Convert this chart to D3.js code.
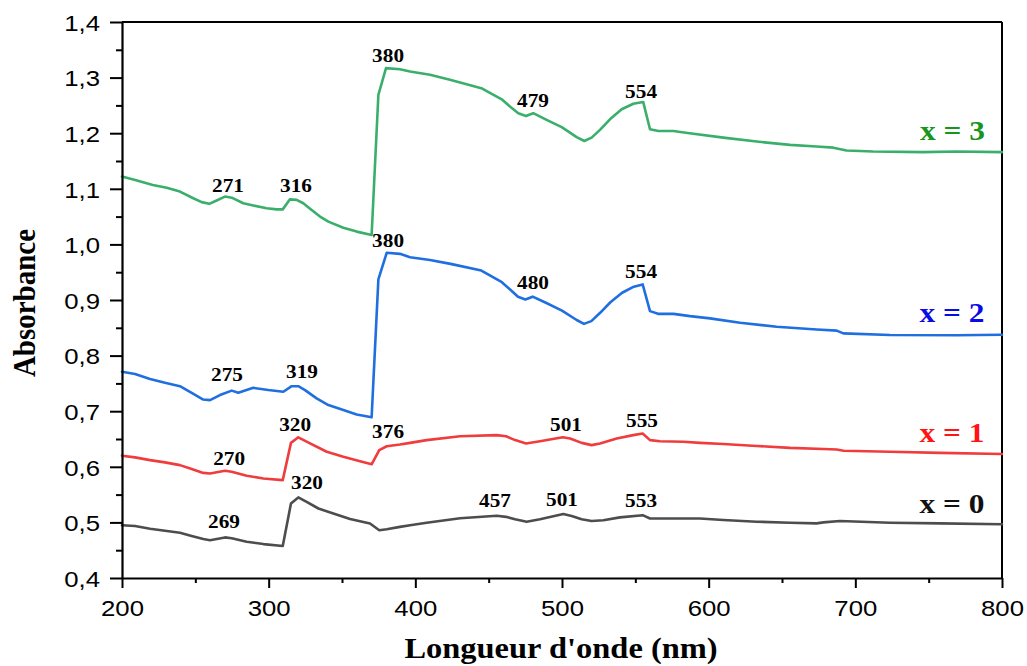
<!DOCTYPE html>
<html>
<head>
<meta charset="utf-8">
<script src="https://cdn.jsdelivr.net/npm/d3@7"></script>
<style>
  html, body { margin: 0; padding: 0; background: #fff; }
  svg { display: block; }
</style>
</head>
<body>
<svg id="chart" width="1027" height="666"></svg>
<script>
// ---------- DATA ----------
const seriesNames = ["x = 0", "x = 1", "x = 2", "x = 3"];

const spectrumX0 = [[200,0.495],[208.9,0.4935],[219.1,0.4887],[229.3,0.485],[239.5,0.4815],[247.5,0.4755],[255.4,0.470],[260,0.468],[270.2,0.473],[274.8,0.4714],[285,0.4653],[296.4,0.461],[309.6,0.4576],[315.2,0.534],[320.2,0.545],[325.9,0.537],[333.9,0.525],[344.1,0.516],[355.5,0.506],[369.1,0.498],[375.4,0.486],[380.5,0.4876],[389.5,0.492],[396.4,0.495],[407.7,0.4995],[430.5,0.5074],[455.5,0.512],[461.8,0.510],[468,0.5055],[475.9,0.501],[485,0.5055],[500.9,0.515],[506.6,0.5115],[513.4,0.5055],[520.2,0.5025],[528.2,0.504],[539.5,0.509],[555,0.513],[560,0.507],[571.4,0.507],[594,0.507],[610,0.5043],[632.7,0.5013],[655.5,0.4995],[673.6,0.4983],[678.2,0.500],[689.5,0.5025],[723.6,0.4995],[757.7,0.4983],[800,0.4966]];

const spectrumX1 = [[200,0.620],[208.9,0.617],[219.1,0.612],[229.3,0.608],[239.5,0.603],[247.5,0.596],[255.4,0.589],[260,0.588],[270.2,0.593],[274.8,0.591],[285,0.584],[296.4,0.579],[309.6,0.576],[315.2,0.643],[320.2,0.653],[328.2,0.642],[339.6,0.627],[350.9,0.618],[362.3,0.610],[370.2,0.6045],[375.4,0.630],[380.5,0.637],[389.5,0.640],[396.4,0.643],[407.7,0.648],[430.5,0.655],[455.5,0.657],[461.8,0.655],[468,0.648],[475.5,0.642],[485,0.646],[500.5,0.653],[505.5,0.651],[513.4,0.643],[520.2,0.639],[525.9,0.642],[537.3,0.651],[548.6,0.657],[555,0.660],[560,0.648],[566.8,0.646],[582.7,0.645],[594.1,0.643],[610,0.641],[632.7,0.6374],[655.5,0.634],[678.2,0.632],[687.3,0.631],[692,0.629],[723.6,0.627],[757.7,0.625],[800,0.623]];

const spectrumX2 = [[200,0.771],[208.9,0.767],[219.1,0.758],[229.3,0.751],[239.5,0.745],[247.5,0.733],[255.4,0.721],[260,0.720],[266.8,0.729],[274.8,0.737],[279.3,0.733],[289.5,0.742],[299.7,0.738],[310,0.735],[315.7,0.745],[320.2,0.745],[324.8,0.738],[332.7,0.723],[340.7,0.711],[350.9,0.702],[360,0.694],[370.2,0.689],[374.8,0.937],[380.5,0.985],[389.5,0.983],[396.4,0.977],[410,0.972],[424,0.965],[445,0.953],[459,0.932],[465,0.918],[470,0.906],[475,0.901],[480,0.906],[489,0.895],[500,0.881],[510,0.864],[515,0.857],[520,0.862],[526,0.877],[533,0.896],[541,0.913],[549,0.924],[555,0.928],[560,0.880],[566,0.875],[576,0.875],[587.3,0.871],[600.9,0.867],[621.4,0.859],[646.4,0.852],[673.6,0.847],[687.3,0.845],[691.8,0.840],[723.6,0.837],[769,0.8366],[800,0.8375]];

const spectrumX3 = [[200,1.122],[209,1.116],[221,1.107],[230.5,1.102],[239.5,1.095],[248.6,1.083],[254.3,1.076],[259.5,1.073],[264.5,1.079],[270.2,1.086],[274.8,1.084],[282.7,1.074],[289.5,1.070],[298.6,1.065],[305.5,1.063],[309.6,1.063],[314.5,1.081],[319.1,1.080],[323.6,1.074],[329.3,1.062],[335,1.050],[340.7,1.041],[350.9,1.030],[360,1.023],[370.2,1.017],[374.8,1.269],[380,1.317],[389.5,1.315],[396.4,1.311],[410,1.305],[423.6,1.296],[445,1.281],[458.9,1.261],[464.5,1.248],[470.2,1.236],[475.4,1.231],[480.4,1.236],[489.5,1.224],[499.8,1.211],[510,1.193],[515.2,1.186],[520.2,1.192],[525.9,1.206],[532.7,1.225],[540.7,1.243],[548.6,1.253],[555.4,1.256],[560,1.207],[565.7,1.204],[575.9,1.204],[587,1.200],[610,1.192],[632.7,1.185],[655.5,1.179],[673.6,1.176],[685,1.174],[694,1.169],[712,1.167],[746,1.166],[769,1.167],[800,1.166]];

// peak annotations: [text, nm, absorbance] (label baseline centre)
const peaksX0 = [["269",269.5,0.490],["320",326.1,0.560],["457",454.3,0.528],["501",500,0.5295],["553",553.9,0.528]];
const peaksX1 = [["270",273,0.603],["320",318,0.664],["376",381.4,0.652],["501",502.7,0.664],["555",554.5,0.672]];
const peaksX2 = [["275",271.6,0.754],["319",322.7,0.760],["380",381.4,0.995],["480",480.2,0.920],["554",553.9,0.940]];
const peaksX3 = [["271",272.3,1.094],["316",318.6,1.094],["380",381.4,1.328],["479",480.2,1.247],["554",553.9,1.263]];

// series label anchors (right end, baseline): [nm, absorbance]
const seriesLabelPos = [[788,0.517],[788,0.645],[788,0.860],[788.4,1.188]];

const xTicks = [200, 300, 400, 500, 600, 700, 800];
const xMinorTicks = [250, 350, 450, 550, 650, 750];
const yTicks = [0.4, 0.5, 0.6, 0.7, 0.8, 0.9, 1.0, 1.1, 1.2, 1.3, 1.4];
const yMinorTicks = [0.45, 0.55, 0.65, 0.75, 0.85, 0.95, 1.05, 1.15, 1.25, 1.35];

const xTitle = "Longueur d'onde (nm)";
const yTitle = "Absorbance";

// ---------- STYLE ----------
const lineColors = ["#4d4d4d", "#f03c3c", "#1f6fe0", "#3aaf6c"];
const labelColors = ["#111111", "#ff1414", "#0a0ae6", "#16961a"];
const SX = 1.12; // horizontal stretch of the text in the reference

const margin = {left: 122, top: 22, right: 1027 - 1002, bottom: 666 - 578};
const W = 1027, H = 666;
const svg = d3.select("#chart");

const x = d3.scaleLinear().domain([200, 800]).range([margin.left, W - margin.right]);
const y = d3.scaleLinear().domain([0.4, 1.4]).range([H - margin.bottom, margin.top]);

const serifFont = "'Liberation Serif', 'Times New Roman', serif";
const sansFont = "'Liberation Sans', Arial, sans-serif";

// frame (top and right)
svg.append("line").attr("x1", x(200)).attr("x2", x(800)).attr("y1", y(1.4)).attr("y2", y(1.4))
  .attr("stroke", "#000").attr("stroke-width", 2);
svg.append("line").attr("x1", x(800)).attr("x2", x(800)).attr("y1", y(1.4)).attr("y2", y(0.4))
  .attr("stroke", "#000").attr("stroke-width", 2);

// lines
const line = d3.line().x(d => x(d[0])).y(d => y(d[1]));
const spectra = [spectrumX0, spectrumX1, spectrumX2, spectrumX3];
spectra.forEach((s, i) => {
  svg.append("path").datum(s).attr("d", line)
    .attr("fill", "none").attr("stroke", lineColors[i]).attr("stroke-width", 2.6)
    .attr("stroke-linejoin", "round").attr("stroke-linecap", "round");
});

// X axis
const gx = svg.append("g").attr("transform", `translate(0,${y(0.4)})`);
gx.call(d3.axisBottom(x).tickValues(xTicks).tickSizeInner(10).tickSizeOuter(0).tickFormat(d3.format("d")));
const gxm = svg.append("g").attr("transform", `translate(0,${y(0.4)})`);
gxm.call(d3.axisBottom(x).tickValues(xMinorTicks).tickSizeInner(5).tickSizeOuter(0).tickFormat(""));
gxm.select(".domain").remove();
gx.selectAll("text").attr("y", 38).attr("dy", 0)
  .attr("transform", `scale(${SX},1)`)
  .style("font-family", sansFont).style("font-size", "23px").attr("fill", "#000");

// Y axis
const commaFmt = d => d3.format(".1f")(d).replace(".", ",");
const gy = svg.append("g").attr("transform", `translate(${x(200)},0)`);
gy.call(d3.axisLeft(y).tickValues(yTicks).tickSizeInner(12).tickSizeOuter(0).tickFormat(commaFmt));
const gym = svg.append("g").attr("transform", `translate(${x(200)},0)`);
gym.call(d3.axisLeft(y).tickValues(yMinorTicks).tickSizeInner(6).tickSizeOuter(0).tickFormat(""));
gym.select(".domain").remove();
gy.selectAll("text").attr("x", -22 / SX).attr("dy", "0.36em")
  .attr("transform", `scale(${SX},1)`)
  .style("font-family", sansFont).style("font-size", "23px").attr("fill", "#000");

[gx, gxm, gy, gym].forEach(g => {
  g.selectAll(".domain").attr("stroke", "#000").attr("stroke-width", 2.2);
  g.selectAll(".tick line").attr("stroke", "#000").attr("stroke-width", 2);
});

// peak labels
const peakSets = [peaksX0, peaksX1, peaksX2, peaksX3];
peakSets.forEach(set => {
  svg.append("g").selectAll("text").data(set).join("text")
    .attr("transform", d => `translate(${x(d[1])},${y(d[2])}) scale(${SX},1)`)
    .attr("text-anchor", "middle")
    .style("font-family", serifFont).style("font-weight", "bold").style("font-size", "19px")
    .attr("fill", "#000").text(d => d[0]);
});

// series labels
svg.append("g").selectAll("text").data(seriesNames).join("text")
  .attr("transform", (d, i) => `translate(${x(seriesLabelPos[i][0])},${y(seriesLabelPos[i][1])}) scale(${SX},1)`)
  .attr("text-anchor", "end")
  .style("font-family", serifFont).style("font-weight", "bold").style("font-size", "28px")
  .attr("fill", (d, i) => labelColors[i]).text(d => d);

// axis titles
svg.append("text")
  .attr("transform", `translate(${(x(200) + x(800)) / 2 - 1},658) scale(${SX},1)`)
  .attr("text-anchor", "middle")
  .style("font-family", serifFont).style("font-weight", "bold").style("font-size", "29px")
  .attr("fill", "#000").text(xTitle);

svg.append("text")
  .attr("transform", `translate(35,${(y(0.4) + y(1.4)) / 2 + 3}) scale(${SX},1) rotate(-90)`)
  .attr("text-anchor", "middle")
  .style("font-family", serifFont).style("font-weight", "bold").style("font-size", "29px")
  .attr("fill", "#000").text(yTitle);
</script>
</body>
</html>
